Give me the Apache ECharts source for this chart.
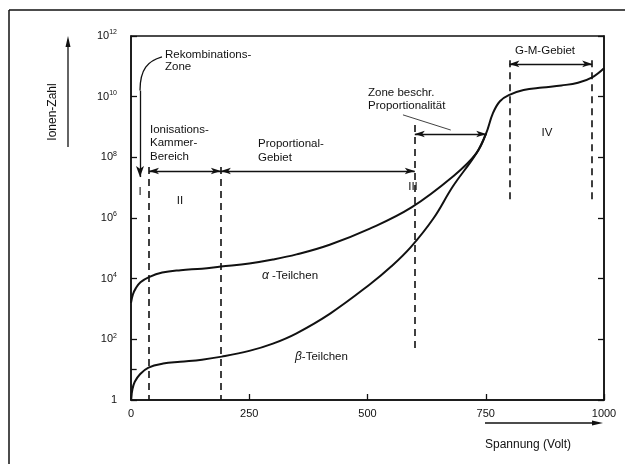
<!DOCTYPE html>
<html><head><meta charset="utf-8">
<script src="https://cdn.jsdelivr.net/npm/echarts@6/dist/echarts.min.js"></script>
<style>html,body{margin:0;padding:0;background:#fff}#c{width:625px;height:464px}</style>
</head><body><div id="c"></div>
<script>
// ---- data ----
const xTicks = [0, 250, 500, 750, 1000];
const yTickExps = [0, 2, 4, 6, 8, 10, 12];
// alpha particles: voltage and log10(ion count)
const alphaX   = [0, 4, 10, 20, 38, 66, 105, 150, 190, 250, 300, 350, 420, 505, 593, 680, 730, 751, 765, 780, 800, 830, 870, 910, 945, 975, 1000];
const alphaExp = [3.2, 3.48, 3.68, 3.88, 4.05, 4.2, 4.28, 4.33, 4.4, 4.5, 4.63, 4.8, 5.12, 5.65, 6.35, 7.36, 8.13, 8.8, 9.45, 9.85, 10.06, 10.22, 10.3, 10.37, 10.46, 10.64, 10.94];
// beta particles
const betaX   = [0, 3, 8, 19, 37, 68, 104, 150, 192, 250, 300, 350, 421, 504, 550, 592, 640, 680, 730, 751];
const betaExp = [0, 0.35, 0.6, 0.85, 1.07, 1.2, 1.26, 1.33, 1.43, 1.62, 1.86, 2.2, 2.85, 3.8, 4.4, 5.05, 6.0, 7.03, 8.13, 8.8];
// region boundaries (Volt) and their vertical extents (log10)
const boundX    = [38, 190, 600, 800, 975];
const boundTop  = [7.68, 7.68, 9.07, 11.2, 11.2];
const boundBot  = [0, 0, 1.58, 6.5, 6.5];
// double arrows: [from, to, level]
const arrowFrom  = [38, 190, 600, 800];
const arrowTo    = [190, 600, 751, 975];
const arrowLevel = [7.55, 7.55, 8.77, 11.08];
const romanLabels = ['I', 'II', 'III', 'IV'];

const K = '#111';
const FONT = 'Liberation Sans, Arial, Helvetica, sans-serif';

const chart = echarts.init(document.getElementById('c'), null, {renderer: 'canvas'});

const ml = [];
boundX.forEach((x, i) => {
  ml.push([{coord: [x, boundTop[i]], symbol: 'none', lineStyle: {type: [7, 5], width: 1.6, color: K}},
           {coord: [x, boundBot[i]], symbol: 'none'}]);
});
arrowFrom.forEach((x, i) => {
  ml.push([{coord: [x, arrowLevel[i]], symbol: 'arrow', symbolSize: [5, 10], lineStyle: {type: 'solid', width: 1.3, color: K}},
           {coord: [arrowTo[i], arrowLevel[i]], symbol: 'arrow', symbolSize: [5, 10]}]);
});
// straight part of the Rekombinations-Zone arrow
ml.push([{coord: [19, 10.2], symbol: 'none', lineStyle: {type: 'solid', width: 1.3, color: K}},
         {coord: [19, 7.35], symbol: 'arrow', symbolSize: [6, 11]}]);
// leader line for "Zone beschr. Proportionalität"
ml.push([{coord: [575, 9.40], symbol: 'none', lineStyle: {type: 'solid', width: 0.8, color: K}},
         {coord: [676, 8.90], symbol: 'none'}]);
// minor tick at 10^1 on the left axis
ml.push([{coord: [0, 1], symbol: 'none', lineStyle: {type: 'solid', width: 1.3, color: K}},
         {coord: [12, 1], symbol: 'none'}]);

const supLabel = v => v === 0 ? '{b|1}' : '{b|10}{s|' + v + '}';

const txt = (x, y, s, extra) => Object.assign({
  type: 'text', x: x, y: y,
  style: Object.assign({text: s, fill: K, font: '11.5px ' + FONT, textVerticalAlign: 'middle'}, extra || {})
});

chart.setOption({
  animation: false,
  backgroundColor: '#fff',
  grid: {left: 131, right: 21, top: 36, bottom: 64, show: true, borderColor: K, borderWidth: 1.5},
  xAxis: {
    type: 'value', min: 0, max: 1000, interval: 250,
    axisLine: {show: true, lineStyle: {color: K, width: 1.5}},
    axisTick: {show: true, inside: true, length: 6, lineStyle: {color: K, width: 1.3}},
    axisLabel: {color: K, fontFamily: FONT, fontSize: 11, margin: 8, formatter: v => String(v)},
    splitLine: {show: false}
  },
  yAxis: [{
    type: 'value', min: 0, max: 12, interval: 2,
    axisLine: {show: true, lineStyle: {color: K, width: 1.5}},
    axisTick: {show: true, inside: true, length: 6, lineStyle: {color: K, width: 1.3}},
    axisLabel: {color: K, margin: 14, formatter: supLabel,
      rich: {b: {fontFamily: FONT, fontSize: 11, color: K},
             s: {fontFamily: FONT, fontSize: 7, color: K, padding: [0, 0, 7, 0]}}},
    splitLine: {show: false}
  }, {
    type: 'value', min: 0, max: 12, interval: 2, position: 'right',
    axisLine: {show: true, lineStyle: {color: K, width: 1.5}},
    axisTick: {show: true, inside: true, length: 6, lineStyle: {color: K, width: 1.3}},
    axisLabel: {show: false},
    splitLine: {show: false}
  }],
  series: [{
    type: 'line', name: 'alpha', smooth: 0.4, symbol: 'none',
    lineStyle: {color: K, width: 2},
    data: alphaX.map((x, i) => [x, alphaExp[i]]),
    markLine: {silent: true, animation: false, label: {show: false}, data: ml}
  }, {
    type: 'line', name: 'beta', smooth: 0.4, symbol: 'none',
    lineStyle: {color: K, width: 2},
    data: betaX.map((x, i) => [x, betaExp[i]])
  }],
  graphic: [
    // outer frame (partially visible)
    {type: 'line', shape: {x1: 9, y1: 10, x2: 625, y2: 10}, style: {stroke: K, lineWidth: 1.5}},
    {type: 'line', shape: {x1: 9, y1: 10, x2: 9, y2: 464}, style: {stroke: K, lineWidth: 1.5}},
    // y axis name with arrow
    {type: 'text', x: 53, y: 112, rotation: Math.PI / 2,
     style: {text: 'Ionen-Zahl', fill: K, font: '12px ' + FONT, textAlign: 'center', textVerticalAlign: 'middle'}},
    {type: 'line', shape: {x1: 68, y1: 147, x2: 68, y2: 42}, style: {stroke: K, lineWidth: 1.3}},
    {type: 'polygon', shape: {points: [[68, 36], [65.5, 47], [70.5, 47]]}, style: {fill: K}},
    // x axis name with arrow
    txt(485, 445, 'Spannung (Volt)', {font: '12px ' + FONT}),
    {type: 'line', shape: {x1: 485, y1: 423, x2: 596, y2: 423}, style: {stroke: K, lineWidth: 1.3}},
    {type: 'polygon', shape: {points: [[603, 423], [592, 420.5], [592, 425.5]]}, style: {fill: K}},
    // annotations
    txt(165, 55, 'Rekombinations-'),
    txt(165, 67, 'Zone'),
    txt(150, 130, 'Ionisations-'),
    txt(150, 143, 'Kammer-'),
    txt(150, 157, 'Bereich'),
    txt(258, 144, 'Proportional-'),
    txt(258, 158, 'Gebiet'),
    txt(368, 93, 'Zone beschr.'),
    txt(368, 106, 'Proportionalität'),
    txt(515, 51, 'G-M-Gebiet'),
    txt(140, 192, romanLabels[0], {textAlign: 'center'}),
    txt(180, 201, romanLabels[1], {textAlign: 'center'}),
    txt(413, 187, romanLabels[2], {textAlign: 'center'}),
    txt(547, 133, romanLabels[3], {textAlign: 'center'}),
    {type: 'text', x: 262, y: 276, style: {text: '{g|α} -Teilchen', fill: K, font: '11.5px ' + FONT, textVerticalAlign: 'middle',
      rich: {g: {fontStyle: 'italic', fontFamily: FONT, fontSize: 12, fill: K}}}},
    {type: 'text', x: 295, y: 357, style: {text: '{g|β}-Teilchen', fill: K, font: '11.5px ' + FONT, textVerticalAlign: 'middle',
      rich: {g: {fontStyle: 'italic', fontFamily: FONT, fontSize: 12, fill: K}}}}
  ]
});

// curved start of the Rekombinations-Zone arrow, placed through the grid's scales
const p0 = chart.convertToPixel({gridIndex: 0}, [65.5, 11.31]);
const p3 = chart.convertToPixel({gridIndex: 0}, [19, 10.2]);
chart.setOption({graphic: [{
  id: 'rekoCurve', type: 'bezierCurve',
  shape: {x1: p0[0], y1: p0[1], cpx1: p0[0] - 14, cpy1: p0[1] + 4, cpx2: p3[0], cpy2: p0[1] + 12, x2: p3[0], y2: p3[1]},
  style: {stroke: K, lineWidth: 1.3, fill: 'none'}
}]});
</script></body></html>
